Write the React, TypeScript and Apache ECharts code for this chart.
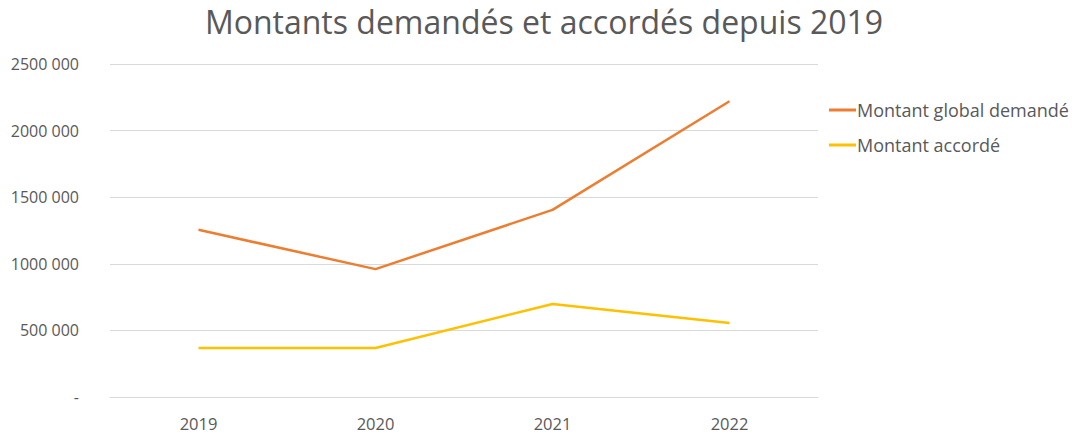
import React, { useEffect, useRef } from "react";
import * as echarts from "echarts";

const categories = ["2019", "2020", "2021", "2022"];
const montantDemande = [1255000, 960000, 1405000, 2220000];
const montantAccorde = [368000, 368000, 698000, 556000];
const yTickValues = [0, 500000, 1000000, 1500000, 2000000, 2500000];
const yTickLabels = ["-", "500 000", "1000 000", "1500 000", "2000 000", "2500 000"];
const seriesNames = ["Montant global demandé", "Montant accordé"];
const titleText = "Montants demandés et accordés depuis 2019";

const FONT = "'Open Sans', 'Noto Sans', sans-serif";

export default function App() {
  const ref = useRef<HTMLDivElement>(null);
  useEffect(() => {
    document.body.style.margin = "0";
    if (!ref.current) return;
    const chart = echarts.init(ref.current, null, { renderer: "svg" });
    chart.setOption({
      animation: false,
      backgroundColor: "#ffffff",
      title: {
        text: titleText,
        left: 544,
        textAlign: "center",
        top: 1,
        padding: 0,
        textStyle: { fontFamily: FONT, fontSize: 32, fontWeight: "normal", color: "#595959", lineHeight: 40 },
      },
      legend: {
        orient: "vertical",
        left: 824,
        top: 95,
        itemWidth: 27,
        itemHeight: 3,
        itemGap: 15,
        icon: "rect",
        textStyle: { fontFamily: FONT, fontSize: 18, lineHeight: 20, color: "#595959", padding: [0, 0, 0, -4] },
        data: seriesNames,
      },
      grid: { left: 110, right: 260, top: 64, bottom: 39, containLabel: false },
      xAxis: {
        type: "category",
        data: categories,
        boundaryGap: true,
        axisLine: { lineStyle: { color: "#d9d9d9", width: 1 } },
        axisTick: { show: false },
        axisLabel: { fontFamily: FONT, fontSize: 16.5, color: "#595959", margin: 18 },
      },
      yAxis: {
        type: "value",
        min: 0,
        max: 2500000,
        interval: 500000,
        axisLine: { show: false },
        axisTick: { show: false },
        splitLine: { lineStyle: { color: "#d9d9d9", width: 1 } },
        axisLabel: {
          fontFamily: FONT,
          fontSize: 16,
          color: "#595959",
          margin: 31,
          formatter: (v: number) => {
            const i = yTickValues.indexOf(v);
            return i >= 0 ? yTickLabels[i] : String(v);
          },
        },
      },
      series: [
        {
          name: seriesNames[0],
          type: "line",
          data: montantDemande,
          symbol: "none",
          lineStyle: { color: "#ED7D31", width: 2.5 },
          itemStyle: { color: "#ED7D31" },
        },
        {
          name: seriesNames[1],
          type: "line",
          data: montantAccorde,
          symbol: "none",
          lineStyle: { color: "#FFC000", width: 2.5 },
          itemStyle: { color: "#FFC000" },
        },
      ],
    });
    return () => chart.dispose();
  }, []);
  return <div ref={ref} style={{ width: 1078, height: 436 }} />;
}
